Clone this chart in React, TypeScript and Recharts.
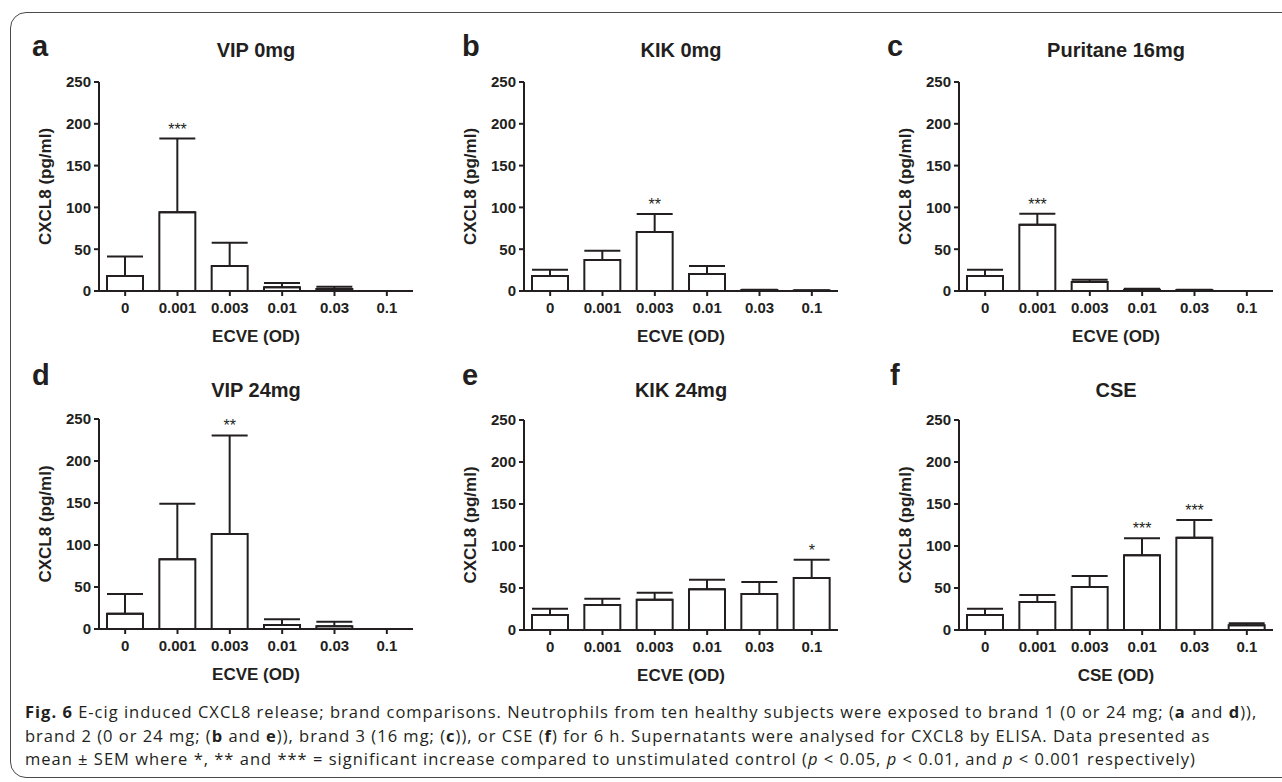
import React from "react";
import {
  ComposedChart,
  Bar,
  Line,
  XAxis,
  YAxis,
  ErrorBar,
  LabelList,
} from "recharts";

const INK = "#231f20";
const FONT = "'Liberation Sans', Arial, Helvetica, sans-serif";

const doses = ["0", "0.001", "0.003", "0.01", "0.03", "0.1"];
const yTicks = [0, 50, 100, 150, 200, 250];

// mean and upper SEM
const vip0Mean = [18, 94.3, 29.9, 4.4, 2.4, 0];
const vip0Sem = [23.4, 88, 27.8, 5.2, 2.8, 0];
const vip0Sig = ["", "***", "", "", "", ""];

const kik0Mean = [18, 37, 70.5, 20.3, 1.2, 0.5];
const kik0Sem = [7.5, 11, 21.5, 9.7, 0.4, 0.1];
const kik0Sig = ["", "", "**", "", "", ""];

const pur16Mean = [18, 79.3, 10.7, 1.6, 1.2, 0];
const pur16Sem = [7.5, 13.1, 2.8, 1.2, 0.4, 0];
const pur16Sig = ["", "***", "", "", "", ""];

const vip24Mean = [18.3, 83, 113, 4.8, 3.2, 0];
const vip24Sem = [23.4, 66, 117.5, 6.7, 5.5, 0];
const vip24Sig = ["", "", "**", "", "", ""];

const kik24Mean = [17.9, 29.8, 36.1, 48.4, 42.9, 61.9];
const kik24Sem = [7.5, 7.5, 8.3, 11.5, 14.2, 21.8];
const kik24Sig = ["", "", "", "", "", "*"];

const cseMean = [17.9, 33.3, 51.2, 88.9, 109.9, 5.6];
const cseSem = [7.5, 8.4, 13.1, 20.2, 21.1, 2.3];
const cseSig = ["", "", "", "***", "***", ""];

const build = (mean: number[], sem: number[], sig: string[]) =>
  doses.map((dose, i) => ({
    dose,
    mean: mean[i],
    err: [0, sem[i]],
    top: mean[i] + sem[i],
    sig: sig[i],
  }));

const PLOT_W = 314;
const Y_W = 70;
const M_TOP = 10;
const M_RIGHT = 10;
const X_H = 60;

type PanelProps = {
  axisX: number;
  plotTop: number;
  plotH: number;
  xLabel: string;
  data: ReturnType<typeof build>;
};

function Panel({ axisX, plotTop, plotH, xLabel, data }: PanelProps) {
  const tick = { fontSize: 15, fontWeight: 700, fill: INK, fontFamily: FONT };
  const axisLine = { stroke: INK, strokeWidth: 2 };
  return (
    <div
      style={{
        position: "absolute",
        left: axisX - Y_W,
        top: plotTop - M_TOP,
      }}
    >
      <ComposedChart
        width={Y_W + PLOT_W + M_RIGHT}
        height={M_TOP + plotH + X_H}
        data={data}
        margin={{ top: M_TOP, right: M_RIGHT, left: 0, bottom: 0 }}
      >
        <XAxis
          dataKey="dose"
          height={X_H}
          tick={tick}
          tickSize={5}
          tickMargin={6}
          axisLine={axisLine}
          tickLine={axisLine}
          interval={0}
          label={(props: any) => {
            const vb = props.viewBox;
            return (
              <text
                x={vb.x + vb.width / 2}
                y={vb.y + 45}
                textAnchor="middle"
                dominantBaseline="central"
                fontSize={17}
                fontWeight={700}
                fill={INK}
                fontFamily={FONT}
              >
                {xLabel}
              </text>
            );
          }}
        />
        <YAxis
          width={Y_W}
          domain={[0, 250]}
          ticks={yTicks}
          interval={0}
          tick={tick}
          tickSize={5}
          tickMargin={3}
          axisLine={axisLine}
          tickLine={axisLine}
          label={(props: any) => {
            const vb = props.viewBox;
            const cx = vb.x + vb.width - 54;
            const cy = vb.y + vb.height / 2;
            return (
              <text
                x={cx}
                y={cy}
                transform={`rotate(-90, ${cx}, ${cy})`}
                textAnchor="middle"
                dominantBaseline="central"
                fontSize={17}
                fontWeight={700}
                fill={INK}
                fontFamily={FONT}
              >
                CXCL8 (pg/ml)
              </text>
            );
          }}
        />
        <Bar
          dataKey="mean"
          barSize={36}
          fill="#ffffff"
          stroke={INK}
          strokeWidth={2}
          isAnimationActive={false}
        >
          <ErrorBar
            dataKey="err"
            width={18}
            stroke={INK}
            strokeWidth={2}
            direction="y"
          />
        </Bar>
        <Line
          dataKey="top"
          stroke="none"
          dot={false}
          activeDot={false}
          isAnimationActive={false}
        >
          <LabelList
            dataKey="sig"
            position="top"
            offset={4}
            fontSize={16}
            fill={INK}
            fontFamily={FONT}
          />
        </Line>
      </ComposedChart>
    </div>
  );
}

const panels = [
  { letter: "a", lx: 32, ly: 56, title: "VIP 0mg", ty: 57, axisX: 99, plotTop: 82, plotH: 209, xLabel: "ECVE (OD)", data: build(vip0Mean, vip0Sem, vip0Sig) },
  { letter: "b", lx: 462, ly: 56, title: "KIK 0mg", ty: 57, axisX: 524, plotTop: 82, plotH: 209, xLabel: "ECVE (OD)", data: build(kik0Mean, kik0Sem, kik0Sig) },
  { letter: "c", lx: 887, ly: 56, title: "Puritane 16mg", ty: 57, axisX: 959, plotTop: 82, plotH: 209, xLabel: "ECVE (OD)", data: build(pur16Mean, pur16Sem, pur16Sig) },
  { letter: "d", lx: 32, ly: 385, title: "VIP 24mg", ty: 397, axisX: 99, plotTop: 419, plotH: 210, xLabel: "ECVE (OD)", data: build(vip24Mean, vip24Sem, vip24Sig) },
  { letter: "e", lx: 462, ly: 385, title: "KIK 24mg", ty: 397, axisX: 524, plotTop: 420, plotH: 210, xLabel: "ECVE (OD)", data: build(kik24Mean, kik24Sem, kik24Sig) },
  { letter: "f", lx: 890, ly: 385, title: "CSE", ty: 397, axisX: 959, plotTop: 420, plotH: 210, xLabel: "CSE (OD)", data: build(cseMean, cseSem, cseSig) },
];

const captionFont = "'Open Sans', 'Noto Sans', sans-serif";

export default function App() {
  return (
    <div
      style={{
        position: "absolute",
        left: 0,
        top: 0,
        width: 1282,
        height: 782,
        overflow: "hidden",
        background: "#ffffff",
      }}
    >
      <div
        style={{
          position: "absolute",
          left: 10,
          top: 12,
          width: 1300,
          height: 764,
          border: "1.5px solid #4a4a4a",
          borderRadius: 16,
        }}
      />
      {panels.map((p) => (
        <Panel
          key={p.letter}
          axisX={p.axisX}
          plotTop={p.plotTop}
          plotH={p.plotH}
          xLabel={p.xLabel}
          data={p.data}
        />
      ))}
      <svg
        width={1282}
        height={782}
        style={{ position: "absolute", left: 0, top: 0, pointerEvents: "none" }}
      >
        {panels.map((p) => (
          <g key={p.letter} fontFamily={FONT} fontWeight={700} fill={INK}>
            <text x={p.lx} y={p.ly} fontSize={29}>
              {p.letter}
            </text>
            <text x={p.axisX + PLOT_W / 2} y={p.ty} fontSize={20} textAnchor="middle">
              {p.title}
            </text>
          </g>
        ))}
      </svg>
      <div
        style={{
          position: "absolute",
          left: 25,
          top: 700,
          fontFamily: captionFont,
          fontSize: 16.5,
          letterSpacing: "1px",
          lineHeight: "23.7px",
          color: INK,
          whiteSpace: "nowrap",
        }}
      >
        <b>Fig. 6</b> E-cig induced CXCL8 release; brand comparisons. Neutrophils from ten healthy
        subjects were exposed to brand 1 (0 or 24 mg; (<b>a</b> and <b>d</b>)),
        <br />
        brand 2 (0 or 24 mg; (<b>b</b> and <b>e</b>)), brand 3 (16 mg; (<b>c</b>)), or CSE (<b>f</b>)
        for 6 h. Supernatants were analysed for CXCL8 by ELISA. Data presented as
        <br />
        mean ± SEM where *, ** and *** = significant increase compared to unstimulated control (
        <i>p</i> &lt; 0.05, <i>p</i> &lt; 0.01, and <i>p</i> &lt; 0.001 respectively)
      </div>
    </div>
  );
}
